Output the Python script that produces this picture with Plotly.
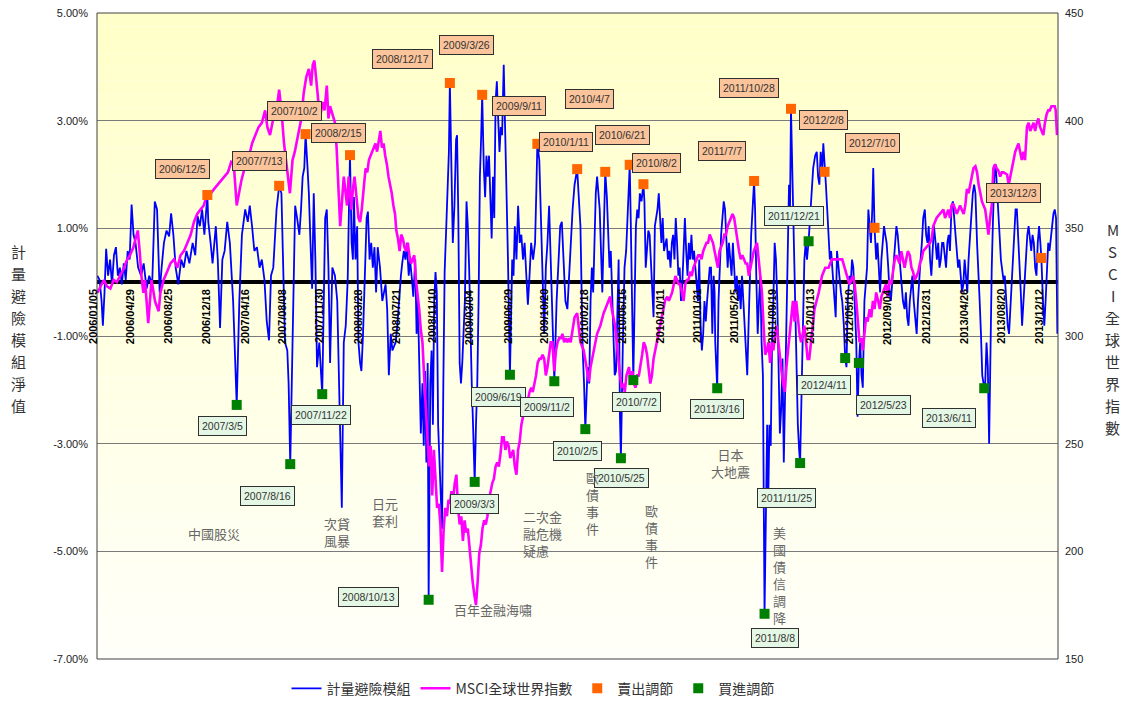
import plotly.graph_objects as go

# ---------------- DATA ----------------
blue_series = [
("2006-01-02",0.12),("2006-01-09",0.04),("2006-01-15",-0.35),("2006-01-19",-0.81),("2006-01-24",-0.19),
("2006-01-29",0.62),("2006-02-04",0.12),("2006-02-10",0.42),("2006-02-16",-0.04),("2006-02-22",0.50),
("2006-02-28",0.65),("2006-03-06",0.12),("2006-03-12",0.27),("2006-03-18",-0.04),("2006-03-24",0.35),
("2006-03-30",0.04),("2006-04-05",0.58),("2006-04-11",0.42),("2006-04-17",1.44),("2006-04-23",0.88),
("2006-04-29",0.73),("2006-05-07",0.27),("2006-05-16",0.12),("2006-05-24",0.35),("2006-06-02",-0.12),
("2006-06-10",0.12),("2006-06-19",-0.04),("2006-06-27",1.50),("2006-07-04",1.35),("2006-07-12",-0.19),
("2006-07-18",0.27),("2006-07-25",0.73),("2006-08-02",0.96),("2006-08-10",0.85),("2006-08-16",1.28),
("2006-08-23",0.88),("2006-08-30",0.27),("2006-09-07",-0.04),("2006-09-16",0.42),("2006-09-24",0.27),
("2006-10-02",0.58),("2006-10-11",0.35),("2006-10-21",0.73),("2006-10-29",0.50),("2006-11-05",1.23),
("2006-11-12",1.04),("2006-11-19",1.35),("2006-11-26",0.88),("2006-12-05",1.62),("2006-12-08",1.12),
("2006-12-15",0.73),("2006-12-21",0.35),("2006-12-31",1.04),("2007-01-06",0.42),("2007-01-13",-0.85),
("2007-01-20",0.42),("2007-01-27",0.58),("2007-02-04",1.12),("2007-02-12",0.73),("2007-02-22",-0.35),
("2007-03-05",-2.28),("2007-03-13",-0.35),("2007-03-21",0.88),("2007-03-31",1.35),("2007-04-08",1.12),
("2007-04-14",1.42),("2007-04-21",1.04),("2007-04-28",0.58),("2007-05-06",0.65),("2007-05-14",0.27),
("2007-05-21",0.42),("2007-05-29",0.04),("2007-06-05",-0.73),("2007-06-12",-1.08),("2007-06-18",0.12),
("2007-06-25",0.27),("2007-07-05",1.35),("2007-07-10",1.65),("2007-07-13",1.79),("2007-07-20",1.65),
("2007-07-25",0.42),("2007-07-31",-1.12),("2007-08-07",-1.27),("2007-08-11",-1.88),("2007-08-16",-3.38),
("2007-08-22",-1.12),("2007-08-26",0.19),("2007-08-31",1.42),("2007-09-06",1.19),("2007-09-13",0.88),
("2007-09-18",1.35),("2007-09-23",1.96),("2007-09-28",2.12),("2007-10-02",2.75),("2007-10-08",2.12),
("2007-10-12",1.65),("2007-10-17",0.73),("2007-10-22",-0.12),("2007-10-27",1.65),("2007-11-01",0.42),
("2007-11-06",-1.58),("2007-11-13",-1.12),("2007-11-22",-2.08),("2007-11-25",-1.12),("2007-12-01",1.19),
("2007-12-06",1.35),("2007-12-11",0.27),("2007-12-16",-1.50),("2007-12-23",0.27),("2007-12-31",0.12),
("2008-01-07",-0.35),("2008-01-21",-4.19),("2008-01-27",-1.12),("2008-02-02",-0.81),("2008-02-08",0.04),
("2008-02-12",1.42),("2008-02-15",2.36),("2008-02-20",0.73),("2008-02-24",0.42),("2008-02-27",1.58),
("2008-03-03",0.42),("2008-03-08",1.04),("2008-03-12",-1.12),("2008-03-17",-1.50),("2008-03-21",-1.65),
("2008-03-26",-0.96),("2008-03-31",0.04),("2008-04-06",1.19),("2008-04-10",1.31),("2008-04-15",0.42),
("2008-04-20",0.73),("2008-04-25",0.27),("2008-04-30",0.65),("2008-05-05",-0.19),("2008-05-10",0.65),
("2008-05-17",0.27),("2008-05-24",-0.35),("2008-05-29",-0.19),("2008-06-03",-0.04),("2008-06-08",-0.50),
("2008-06-13",-1.73),("2008-06-19",-0.96),("2008-06-24",-1.27),("2008-06-29",-1.19),("2008-07-04",-1.12),
("2008-07-09",-0.81),("2008-07-14",-0.35),("2008-07-20",0.12),("2008-07-24",0.35),("2008-07-29",0.58),
("2008-08-03",0.42),("2008-08-07",0.73),("2008-08-13",0.12),("2008-08-17",0.42),("2008-08-23",0.04),
("2008-08-27",-0.27),("2008-09-02",0.42),("2008-09-06",-0.96),("2008-09-10",-0.35),("2008-09-14",-1.27),
("2008-09-19",-2.81),("2008-09-24",-1.88),("2008-09-28",-3.04),("2008-10-02",-1.65),("2008-10-06",-3.35),
("2008-10-10",-1.50),("2008-10-13",-5.90),("2008-10-18",-1.88),("2008-10-22",-1.27),("2008-10-26",-2.65),
("2008-10-30",-0.35),("2008-11-03",0.19),("2008-11-07",-0.19),("2008-11-11",-2.65),("2008-11-15",-3.42),
("2008-11-19",-3.81),("2008-11-23",-4.58),("2008-11-27",-1.88),("2008-12-01",0.19),("2008-12-06",1.04),
("2008-12-10",1.96),("2008-12-14",2.42),("2008-12-17",3.70),("2008-12-21",2.12),("2008-12-26",0.73),
("2008-12-31",1.42),("2009-01-05",2.65),("2009-01-08",2.73),("2009-01-12",1.19),("2009-01-16",-1.50),
("2009-01-20",-1.88),("2009-01-24",-1.50),("2009-01-28",-0.96),("2009-02-01",-0.35),("2009-02-06",1.50),
("2009-02-10",1.04),("2009-02-14",0.27),("2009-02-18",-1.12),("2009-02-22",-1.88),("2009-02-26",-2.65),
("2009-03-03",-3.71),("2009-03-07",-2.65),("2009-03-11",-1.88),("2009-03-15",-0.35),("2009-03-19",1.96),
("2009-03-23",2.73),("2009-03-26",3.48),("2009-03-31",2.12),("2009-04-04",1.58),("2009-04-08",2.35),
("2009-04-12",1.96),("2009-04-16",2.35),("2009-04-20",1.35),("2009-04-24",0.81),("2009-04-28",1.96),
("2009-05-02",1.19),("2009-05-06",3.35),("2009-05-10",3.73),("2009-05-14",3.04),("2009-05-18",2.42),
("2009-05-22",2.88),("2009-05-26",2.73),("2009-05-31",4.04),("2009-06-05",2.73),("2009-06-09",1.58),
("2009-06-13",0.42),("2009-06-19",-1.72),("2009-06-22",-0.35),("2009-06-26",0.42),("2009-06-30",0.12),
("2009-07-04",1.04),("2009-07-09",0.42),("2009-07-14",1.42),("2009-07-19",0.73),("2009-07-24",0.88),
("2009-07-29",0.42),("2009-08-03",0.73),("2009-08-09",0.04),("2009-08-13",-0.42),("2009-08-18",0.12),
("2009-08-23",0.73),("2009-08-29",0.42),("2009-09-04",0.73),("2009-09-08",1.73),("2009-09-11",2.57),
("2009-09-17",2.27),("2009-09-22",1.19),("2009-09-27",0.04),("2009-10-02",-0.96),("2009-10-07",0.27),
("2009-10-12",0.73),("2009-10-17",1.42),("2009-10-23",0.12),("2009-10-29",-0.96),("2009-11-02",-1.84),
("2009-11-09",-0.35),("2009-11-15",0.42),("2009-11-20",1.04),("2009-11-25",1.12),("2009-12-01",0.42),
("2009-12-06",-0.35),("2009-12-12",-0.50),("2009-12-17",0.04),("2009-12-23",0.88),("2009-12-28",1.35),
("2010-01-03",1.81),("2010-01-08",1.96),("2010-01-11",2.10),("2010-01-21",1.04),("2010-01-24",-0.19),
("2010-01-28",-1.27),("2010-02-01",-1.88),("2010-02-05",-2.73),("2010-02-12",-1.58),("2010-02-17",-1.88),
("2010-02-21",-0.35),("2010-02-25",0.27),("2010-03-01",-0.19),("2010-03-05",0.81),("2010-03-09",1.65),
("2010-03-13",1.96),("2010-03-17",1.58),("2010-03-21",1.35),("2010-03-25",0.58),("2010-03-29",-0.19),
("2010-04-02",0.81),("2010-04-05",1.58),("2010-04-07",2.05),("2010-04-12",1.58),("2010-04-16",0.81),
("2010-04-20",0.27),("2010-04-24",0.58),("2010-04-28",-0.35),("2010-05-02",-0.96),("2010-05-06",-1.73),
("2010-05-10",-1.65),("2010-05-14",-0.73),("2010-05-18",0.42),("2010-05-22",-2.50),("2010-05-25",-3.27),
("2010-05-31",-1.12),("2010-06-05",0.27),("2010-06-10",0.58),("2010-06-15",1.19),("2010-06-21",2.18),
("2010-06-24",1.19),("2010-06-28",-0.35),("2010-07-02",-1.82),("2010-07-06",-0.35),("2010-07-10",1.04),
("2010-07-14",1.35),("2010-07-18",1.19),("2010-07-22",1.65),("2010-07-27",1.50),("2010-08-02",1.82),
("2010-08-05",1.50),("2010-08-09",0.27),("2010-08-13",0.73),("2010-08-17",0.96),("2010-08-21",0.88),
("2010-08-25",0.27),("2010-08-29",-0.35),("2010-09-02",-0.65),("2010-09-06",1.04),("2010-09-10",1.19),
("2010-09-14",1.35),("2010-09-18",1.65),("2010-09-22",1.04),("2010-09-26",0.73),("2010-09-30",1.19),
("2010-10-04",0.58),("2010-10-12",0.81),("2010-10-16",0.42),("2010-10-20",0.58),("2010-10-24",0.27),
("2010-10-28",0.73),("2010-11-01",0.88),("2010-11-05",0.42),("2010-11-09",1.19),("2010-11-13",0.73),
("2010-11-17",0.12),("2010-11-21",0.27),("2010-11-25",-0.35),("2010-11-29",-0.04),("2010-12-03",0.73),
("2010-12-07",1.19),("2010-12-11",0.58),("2010-12-15",0.12),("2010-12-19",0.73),("2010-12-23",0.42),
("2010-12-27",0.88),("2010-12-31",0.42),("2011-01-04",0.58),("2011-01-08",0.27),("2011-01-12",0.12),
("2011-01-16",-0.35),("2011-01-20",0.42),("2011-01-24",-0.81),("2011-01-28",-1.27),("2011-02-01",-0.96),
("2011-02-05",-0.35),("2011-02-09",-0.73),("2011-02-13",-0.35),("2011-02-17",-0.04),("2011-02-21",0.27),
("2011-02-25",0.27),("2011-03-01",-0.96),("2011-03-05",0.12),("2011-03-08",-0.19),("2011-03-10",-1.12),
("2011-03-13",-1.58),("2011-03-16",-1.97),("2011-03-20",-0.35),("2011-03-24",0.42),("2011-03-28",0.88),
("2011-04-01",1.19),("2011-04-05",1.50),("2011-04-09",1.35),("2011-04-13",0.73),("2011-04-17",0.27),
("2011-04-21",0.73),("2011-04-25",0.42),("2011-04-29",0.12),("2011-05-03",0.73),("2011-05-07",0.27),
("2011-05-11",-0.19),("2011-05-15",0.12),("2011-05-19",-0.35),("2011-05-23",-0.04),("2011-05-27",-0.50),
("2011-05-31",0.12),("2011-06-04",-0.35),("2011-06-08",-0.96),("2011-06-12",-1.42),("2011-06-16",-1.73),
("2011-06-20",-0.81),("2011-06-24",0.12),("2011-06-28",0.88),("2011-07-07",1.88),("2011-07-10",1.35),
("2011-07-14",0.04),("2011-07-18",-0.96),("2011-07-22",-0.35),("2011-07-26",0.12),("2011-07-30",-1.12),
("2011-08-03",-1.73),("2011-08-08",-6.16),("2011-08-12",-4.19),("2011-08-16",-2.65),("2011-08-19",-4.19),
("2011-08-23",-2.65),("2011-08-27",-3.04),("2011-08-31",-1.12),("2011-09-04",-0.35),("2011-09-08",0.73),
("2011-09-12",0.42),("2011-09-16",-0.35),("2011-09-20",-1.58),("2011-09-24",-2.81),("2011-09-28",-2.35),
("2011-10-02",-1.42),("2011-10-06",-3.35),("2011-10-10",-1.88),("2011-10-14",-0.50),("2011-10-18",0.81),
("2011-10-22",1.81),("2011-10-25",1.35),("2011-10-28",3.22),("2011-11-02",1.81),("2011-11-06",0.73),
("2011-11-10",-0.35),("2011-11-14",-1.73),("2011-11-18",-2.65),("2011-11-22",-3.12),("2011-11-25",-3.36),
("2011-11-30",-1.88),("2011-12-04",-0.35),("2011-12-08",0.42),("2011-12-12",0.73),("2011-12-16",0.42),
("2011-12-21",0.76),("2011-12-26",1.19),("2011-12-30",1.65),("2012-01-04",2.12),("2012-01-10",2.35),
("2012-01-15",2.42),("2012-01-19",1.96),("2012-01-23",1.81),("2012-01-27",2.42),("2012-02-01",2.12),
("2012-02-04",2.58),("2012-02-08",2.05),("2012-02-12",1.81),("2012-02-16",1.35),("2012-02-20",0.73),
("2012-02-24",0.42),("2012-02-28",0.58),("2012-03-04",0.12),("2012-03-08",-0.35),("2012-03-13",-0.65),
("2012-03-17",0.58),("2012-03-21",0.27),("2012-03-25",-0.04),("2012-03-29",-0.19),("2012-04-02",-0.35),
("2012-04-07",-0.81),("2012-04-11",-1.41),("2012-04-15",-1.58),("2012-04-19",-0.35),("2012-04-24",0.12),
("2012-04-28",-0.04),("2012-05-02",0.42),("2012-05-06",0.27),("2012-05-11",-0.35),("2012-05-15",-1.12),
("2012-05-19",-2.50),("2012-05-23",-1.50),("2012-05-27",-1.12),("2012-05-31",-1.73),("2012-06-04",-1.96),
("2012-06-09",-0.35),("2012-06-13",-0.04),("2012-06-17",0.27),("2012-06-21",1.35),("2012-06-25",1.04),
("2012-06-29",0.73),("2012-07-03",1.35),("2012-07-06",2.12),("2012-07-10",1.01),("2012-07-15",0.42),
("2012-07-19",0.73),("2012-07-23",0.27),("2012-07-27",-0.19),("2012-07-31",0.42),("2012-08-04",0.73),
("2012-08-08",1.04),("2012-08-12",0.88),("2012-08-16",0.73),("2012-08-21",0.27),("2012-08-25",-0.19),
("2012-08-29",-0.35),("2012-09-02",-0.04),("2012-09-07",0.27),("2012-09-11",0.73),("2012-09-15",1.04),
("2012-09-19",0.88),("2012-09-23",0.58),("2012-09-27",0.27),("2012-10-01",-0.04),("2012-10-05",-0.35),
("2012-10-10",-0.50),("2012-10-14",-0.19),("2012-10-18",-0.65),("2012-10-22",-0.81),("2012-10-26",-0.35),
("2012-10-30",-0.04),("2012-11-03",0.12),("2012-11-07",-0.35),("2012-11-12",-0.65),("2012-11-16",-0.96),
("2012-11-20",-0.35),("2012-11-24",0.12),("2012-11-28",0.42),("2012-12-02",0.73),("2012-12-06",1.19),
("2012-12-11",1.35),("2012-12-15",0.88),("2012-12-19",0.73),("2012-12-23",1.04),("2012-12-27",0.42),
("2012-12-31",0.12),("2013-01-04",0.58),("2013-01-08",1.04),("2013-01-13",0.73),("2013-01-17",0.42),
("2013-01-21",0.73),("2013-01-25",0.27),("2013-01-29",0.42),("2013-02-02",0.73),("2013-02-06",0.73),
("2013-02-10",0.42),("2013-02-14",0.27),("2013-02-18",0.73),("2013-02-22",0.88),("2013-02-26",0.58),
("2013-03-03",1.42),("2013-03-07",1.50),("2013-03-11",1.19),("2013-03-15",0.73),("2013-03-19",0.58),
("2013-03-23",0.27),("2013-03-27",0.42),("2013-03-31",0.12),("2013-04-04",-0.19),("2013-04-08",-0.04),
("2013-04-12",0.42),("2013-04-16",0.12),("2013-04-20",-0.19),("2013-04-24",0.42),("2013-04-29",0.88),
("2013-05-03",1.35),("2013-05-07",1.65),("2013-05-11",1.81),("2013-05-15",1.65),("2013-05-20",0.73),
("2013-05-24",0.27),("2013-05-28",-0.35),("2013-06-01",-0.96),("2013-06-05",-1.73),("2013-06-11",-1.97),
("2013-06-14",-1.88),("2013-06-18",-1.12),("2013-06-22",-1.58),("2013-06-26",-3.00),("2013-06-30",-1.12),
("2013-07-04",0.27),("2013-07-08",1.19),("2013-07-12",1.96),("2013-07-16",2.19),("2013-07-20",1.81),
("2013-07-24",1.35),("2013-07-28",0.88),("2013-08-01",0.42),("2013-08-05",0.27),("2013-08-09",0.04),
("2013-08-13",0.12),("2013-08-18",-0.35),("2013-08-22",-0.81),("2013-08-26",-0.96),("2013-08-30",-0.35),
("2013-09-03",-0.04),("2013-09-07",0.42),("2013-09-11",1.04),("2013-09-15",1.35),("2013-09-19",1.35),
("2013-09-23",0.88),("2013-09-27",0.27),("2013-10-01",-0.19),("2013-10-05",-0.81),("2013-10-09",-0.35),
("2013-10-13",0.12),("2013-10-17",0.58),("2013-10-21",0.88),("2013-10-25",1.04),("2013-10-29",0.73),
("2013-11-02",0.58),("2013-11-06",0.88),("2013-11-10",0.73),("2013-11-14",0.27),("2013-11-18",0.12),
("2013-11-22",0.73),("2013-11-26",1.04),("2013-11-30",0.73),("2013-12-03",0.45),("2013-12-08",-0.35),
("2013-12-12",-0.81),("2013-12-16",-0.35),("2013-12-20",0.27),("2013-12-24",0.73),("2013-12-28",0.58),
("2014-01-01",0.88),("2014-01-05",1.04),("2014-01-09",1.27),("2014-01-13",1.35),("2014-01-17",1.19),
("2014-01-21",-0.96),
]

msci_series = [
("2006-01-02",320),("2006-01-12",323),("2006-01-22",326),("2006-02-01",323),("2006-02-11",322),
("2006-02-21",326),("2006-03-03",325),("2006-03-13",328),("2006-03-23",331),("2006-04-02",335),
("2006-04-12",337.5),("2006-04-22",341),("2006-05-01",346),("2006-05-06",349),("2006-05-12",339),
("2006-05-17",328),("2006-05-23",320),("2006-05-28",326),("2006-06-02",316),("2006-06-07",306),
("2006-06-12",316),("2006-06-17",326),("2006-06-28",316),("2006-07-09",311.5),("2006-07-14",320),
("2006-07-24",326),("2006-08-04",330),("2006-08-14",333.7),("2006-08-25",335.6),("2006-09-04",331.7),
("2006-09-14",337.5),("2006-09-24",339.4),("2006-10-05",343.3),("2006-10-15",347),("2006-10-25",353),
("2006-11-04",356.7),("2006-11-14",358.7),("2006-11-24",360.6),("2006-12-05",366.3),("2006-12-16",366.3),
("2006-12-26",368.3),("2007-01-06",370.2),("2007-01-16",372),("2007-01-27",374),("2007-02-06",376),
("2007-02-16",380.8),("2007-02-24",379.8),("2007-03-05",360.6),("2007-03-11",366.3),("2007-03-19",372),
("2007-03-29",377.9),("2007-04-09",381.7),("2007-04-21",389.4),("2007-05-01",393.3),("2007-05-11",397),
("2007-05-21",399),("2007-05-31",404.8),("2007-06-07",397),("2007-06-15",393.3),("2007-06-25",401),
("2007-07-05",404.8),("2007-07-13",414.4),("2007-07-20",404.8),("2007-07-28",389.4),("2007-08-07",377.9),
("2007-08-15",366.3),("2007-08-23",381.7),("2007-08-30",385.6),("2007-09-09",393.3),("2007-09-19",401),
("2007-09-26",412.5),("2007-10-04",420.2),("2007-10-12",424),("2007-10-19",416.3),("2007-10-24",426),
("2007-10-29",427.9),("2007-11-03",420.2),("2007-11-08",410.6),("2007-11-15",401),("2007-11-23",408.7),
("2007-11-29",404.8),("2007-12-06",416.3),("2007-12-11",401),("2007-12-16",406.7),("2007-12-23",402.9),
("2007-12-31",399),("2008-01-05",387.5),("2008-01-10",370.2),("2008-01-16",351),("2008-01-27",374),
("2008-02-01",368.3),("2008-02-06",360.6),("2008-02-11",374),("2008-02-15",366.3),("2008-02-19",358.7),
("2008-02-24",368.3),("2008-02-29",374),("2008-03-06",364.4),("2008-03-12",354.8),("2008-03-17",352.9),
("2008-03-22",358.7),("2008-03-29",370.2),("2008-04-03",377.9),("2008-04-08",376),("2008-04-13",381.7),
("2008-04-18",383.7),("2008-04-23",385.6),("2008-04-28",387.5),("2008-05-03",389.4),("2008-05-08",385.6),
("2008-05-13",391.3),("2008-05-18",395.2),("2008-05-23",387.5),("2008-05-28",389.4),("2008-06-02",383.7),
("2008-06-07",379.8),("2008-06-12",374),("2008-06-17",370.2),("2008-06-22",366.3),("2008-06-27",360.6),
("2008-07-02",356.7),("2008-07-06",349),("2008-07-11",345.2),("2008-07-16",339.4),("2008-07-21",347.1),
("2008-07-26",345.2),("2008-07-31",341.3),("2008-08-05",339.4),("2008-08-10",343.3),("2008-08-15",337.5),
("2008-08-20",333.7),("2008-08-25",335.6),("2008-08-30",337.5),("2008-09-04",326),("2008-09-09",320.2),
("2008-09-14",312.5),("2008-09-19",302.9),("2008-09-24",297.1),("2008-09-29",281.7),("2008-10-04",268.3),
("2008-10-09",254.8),("2008-10-14",239.4),("2008-10-19",249),("2008-10-24",226),("2008-10-29",247.1),
("2008-11-03",235.6),("2008-11-08",220.2),("2008-11-13",222.1),("2008-11-18",212.5),("2008-11-23",190.4),
("2008-11-28",210.6),("2008-12-03",220.2),("2008-12-08",216.3),("2008-12-13",224),("2008-12-17",222.1),
("2008-12-22",227.9),("2008-12-27",224),("2009-01-01",231.7),("2009-01-06",235.6),("2009-01-11",220.2),
("2009-01-16",212.5),("2009-01-21",216.3),("2009-01-26",204.8),("2009-01-31",214.4),("2009-02-05",208.7),
("2009-02-10",210.6),("2009-02-15",201),("2009-02-20",193.3),("2009-02-25",185.6),("2009-03-02",179.8),
("2009-03-07",175),("2009-03-12",185.6),("2009-03-17",199),("2009-03-22",202.9),("2009-03-27",210.6),
("2009-04-01",214.4),("2009-04-06",212.5),("2009-04-11",216.3),("2009-04-16",224),("2009-04-21",227.9),
("2009-04-26",231.7),("2009-05-01",233.7),("2009-05-06",239.4),("2009-05-11",241.3),("2009-05-16",239.4),
("2009-05-21",245.2),("2009-05-26",252.9),("2009-05-31",252.9),("2009-06-05",247.1),("2009-06-10",251),
("2009-06-15",249),("2009-06-20",243.3),("2009-06-29",247.1),("2009-07-04",239.4),("2009-07-09",235.6),
("2009-07-14",247.1),("2009-07-19",251),("2009-07-24",258.7),("2009-07-29",262.5),("2009-08-03",266.3),
("2009-08-08",268.3),("2009-08-13",270.2),("2009-08-18",274),("2009-08-23",276),("2009-08-28",274),
("2009-09-02",277.9),("2009-09-07",281.7),("2009-09-12",287.5),("2009-09-17",289.4),("2009-09-22",289.4),
("2009-09-27",291.3),("2009-10-02",289.4),("2009-10-07",281.7),("2009-10-12",285.6),("2009-10-17",291.3),
("2009-10-22",297.1),("2009-10-27",297.1),("2009-11-02",283.7),("2009-11-07",293.3),("2009-11-12",297.1),
("2009-11-17",299),("2009-11-22",299),("2009-11-27",301),("2009-12-02",297.1),("2009-12-07",299),
("2009-12-12",297.1),("2009-12-17",299),("2009-12-22",297.1),("2009-12-28",302.9),("2010-01-03",308.7),
("2010-01-11",310.6),("2010-01-21",297.1),("2010-01-31",293.3),("2010-02-10",283.7),("2010-02-16",278.8),
("2010-02-21",285.6),("2010-03-03",293.3),("2010-03-13",301),("2010-03-23",304.8),("2010-04-02",310.6),
("2010-04-12",314.4),("2010-04-22",318.3),("2010-04-27",312.5),("2010-05-02",308.7),("2010-05-07",304.8),
("2010-05-12",297.1),("2010-05-17",287.5),("2010-05-22",281.7),("2010-05-27",276),("2010-06-01",277.9),
("2010-06-06",274),("2010-06-11",281.7),("2010-06-19",285.6),("2010-06-24",277.9),("2010-06-29",283.7),
("2010-07-04",277.9),("2010-07-09",276),("2010-07-14",281.7),("2010-07-19",281.7),("2010-07-24",285.6),
("2010-07-29",291.3),("2010-08-03",297.1),("2010-08-08",295.2),("2010-08-13",291.3),("2010-08-18",283.7),
("2010-08-23",277.9),("2010-08-28",281.7),("2010-09-02",289.4),("2010-09-07",293.3),("2010-09-12",297.1),
("2010-09-17",301),("2010-09-22",304.8),("2010-09-27",308.7),("2010-10-02",312.5),("2010-10-07",316.3),
("2010-10-14",318.3),("2010-10-19",316.3),("2010-10-24",318.3),("2010-10-29",320.2),("2010-11-03",324),
("2010-11-08",327.9),("2010-11-13",326),("2010-11-18",324),("2010-11-23",324),("2010-11-28",320.2),
("2010-12-03",316.3),("2010-12-08",324),("2010-12-13",326),("2010-12-18",326),("2010-12-23",329.8),
("2010-12-28",327.9),("2011-01-02",331.7),("2011-01-07",333.7),("2011-01-12",335.6),("2011-01-17",337.5),
("2011-01-22",337.5),("2011-01-27",335.6),("2011-02-01",339.4),("2011-02-06",341.3),("2011-02-11",343.3),
("2011-02-16",343.3),("2011-02-21",347.1),("2011-02-26",345.2),("2011-03-03",343.3),("2011-03-08",339.4),
("2011-03-13",335.6),("2011-03-18",331.7),("2011-03-23",339.4),("2011-03-28",341.3),("2011-04-02",343.3),
("2011-04-07",347.1),("2011-04-12",347.1),("2011-04-17",351),("2011-04-22",352.9),("2011-04-27",354.8),
("2011-05-02",356.7),("2011-05-07",354.8),("2011-05-12",349),("2011-05-17",343.3),("2011-05-22",339.4),
("2011-05-27",335.6),("2011-06-01",337.5),("2011-06-06",335.6),("2011-06-11",333.7),("2011-06-16",333.7),
("2011-06-21",327.9),("2011-06-26",331.7),("2011-07-01",335.6),("2011-07-06",339.4),("2011-07-11",341.3),
("2011-07-16",343.3),("2011-07-21",335.6),("2011-07-26",327.9),("2011-07-31",320.2),("2011-08-05",304.8),
("2011-08-10",291.3),("2011-08-15",293.3),("2011-08-20",297.1),("2011-08-25",287.5),("2011-08-30",297.1),
("2011-09-04",293.3),("2011-09-09",301),("2011-09-14",304.8),("2011-09-19",297.1),("2011-09-24",291.3),
("2011-09-29",283.7),("2011-10-04",277.9),("2011-10-09",274),("2011-10-14",285.6),("2011-10-19",293.3),
("2011-10-24",301),("2011-10-29",308.7),("2011-11-03",316.3),("2011-11-08",306.7),("2011-11-13",316.3),
("2011-11-18",308.7),("2011-11-23",301),("2011-11-28",297.1),("2011-12-03",301),("2011-12-08",304.8),
("2011-12-13",297.1),("2011-12-18",289.4),("2011-12-23",289.4),("2011-12-28",297.1),("2012-01-03",304.8),
("2012-01-08",312.5),("2012-01-21",320.2),("2012-01-31",327.9),("2012-02-10",331.7),("2012-02-20",331.7),
("2012-03-01",335.6),("2012-03-13",335.6),("2012-03-23",335.6),("2012-04-02",335.6),("2012-04-13",329.8),
("2012-04-24",324),("2012-05-05",327.9),("2012-05-10",324),("2012-05-15",316.3),("2012-05-20",304.8),
("2012-05-25",297.1),("2012-05-31",299),("2012-06-04",293.3),("2012-06-09",301),("2012-06-14",308.7),
("2012-06-19",306.7),("2012-06-25",312.5),("2012-06-30",308.7),("2012-07-05",316.3),("2012-07-10",312.5),
("2012-07-15",320.2),("2012-07-21",316.3),("2012-07-26",312.5),("2012-07-31",318.3),("2012-08-04",320.2),
("2012-08-14",324),("2012-08-19",318.3),("2012-08-25",326),("2012-08-30",324),("2012-09-05",331.7),
("2012-09-10",335.6),("2012-09-15",337.5),("2012-09-20",335.6),("2012-09-25",333.7),("2012-09-30",339.4),
("2012-10-05",335.6),("2012-10-10",331.7),("2012-10-15",335.6),("2012-10-20",339.4),("2012-10-26",337.5),
("2012-10-31",331.7),("2012-11-05",329.8),("2012-11-10",326),("2012-11-16",327.9),("2012-11-21",329.8),
("2012-11-26",333.7),("2012-12-01",335.6),("2012-12-06",339.4),("2012-12-16",341.3),("2012-12-27",343.3),
("2013-01-01",345.2),("2013-01-06",351),("2013-01-11",352.9),("2013-01-16",354.8),("2013-01-26",356.7),
("2013-02-06",358.7),("2013-02-11",354.8),("2013-02-16",356.7),("2013-02-21",358.7),("2013-02-26",354.8),
("2013-03-03",360.6),("2013-03-08",361.5),("2013-03-19",356.7),("2013-03-24",358.7),("2013-03-29",360.6),
("2013-04-03",358.7),("2013-04-09",356.7),("2013-04-14",360.6),("2013-04-19",368.3),("2013-04-24",366.3),
("2013-04-29",370.2),("2013-05-04",374),("2013-05-09",377.9),("2013-05-15",378.8),("2013-05-20",376),
("2013-05-25",370.2),("2013-05-30",366.3),("2013-06-04",362.5),("2013-06-09",360.6),("2013-06-14",358.7),
("2013-06-19",352.9),("2013-06-24",347.1),("2013-06-29",354.8),("2013-07-04",360.6),("2013-07-09",377.9),
("2013-07-14",379.8),("2013-07-19",377.9),("2013-07-24",376.9),("2013-07-30",374),("2013-08-04",376),
("2013-08-09",376),("2013-08-20",375),("2013-08-25",370.2),("2013-08-30",374),("2013-09-04",377.9),
("2013-09-09",381.7),("2013-09-14",385.6),("2013-09-19",387.5),("2013-09-24",389.4),("2013-09-29",385.6),
("2013-10-04",381.7),("2013-10-09",385.6),("2013-10-14",381.7),("2013-10-20",397.1),("2013-10-25",399),
("2013-10-30",395.2),("2013-11-04",397.1),("2013-11-09",399),("2013-11-14",395.2),("2013-11-19",399),
("2013-11-24",401),("2013-11-29",397.1),("2013-12-04",395.2),("2013-12-09",393.3),("2013-12-14",399),
("2013-12-19",402.9),("2013-12-24",404.8),("2013-12-29",404.8),("2014-01-03",406.7),("2014-01-08",406.7),
("2014-01-13",406.7),("2014-01-16",404.8),("2014-01-20",393.3),
]

sell_dates = ["2006-12-05","2007-07-13","2007-10-02","2008-02-15","2008-12-17","2009-03-26",
              "2009-09-11","2010-01-11","2010-04-07","2010-06-21","2010-08-02","2011-07-07",
              "2011-10-28","2012-02-08","2012-07-10","2013-12-03"]
sell_vals = [1.62,1.79,2.75,2.36,3.70,3.48,2.57,2.10,2.05,2.18,1.82,1.88,3.22,2.05,1.01,0.45]
sell_labels = ["2006/12/5","2007/7/13","2007/10/2","2008/2/15","2008/12/17","2009/3/26",
               "2009/9/11","2010/1/11","2010/4/7","2010/6/21","2010/8/2","2011/7/7",
               "2011/10/28","2012/2/8","2012/7/10","2013/12/3"]

buy_dates = ["2007-03-05","2007-08-16","2007-11-22","2008-10-13","2009-03-03","2009-06-19",
             "2009-11-02","2010-02-05","2010-05-25","2010-07-02","2011-03-16","2011-08-08",
             "2011-11-25","2011-12-21","2012-04-11","2012-05-23","2013-06-11"]
buy_vals = [-2.28,-3.38,-2.08,-5.90,-3.71,-1.72,-1.84,-2.73,-3.27,-1.82,-1.97,-6.16,
            -3.36,0.76,-1.41,-1.50,-1.97]
buy_labels = ["2007/3/5","2007/8/16","2007/11/22","2008/10/13","2009/3/3","2009/6/19",
              "2009/11/2","2010/2/5","2010/5/25","2010/7/2","2011/3/16","2011/8/8",
              "2011/11/25","2011/12/21","2012/4/11","2012/5/23","2013/6/11"]

tick_dates = ["2006-01-05","2006-04-29","2006-08-25","2006-12-18","2007-04-16","2007-08-08",
              "2007-11-30","2008-03-28","2008-07-21","2008-11-10","2009-03-04","2009-06-29",
              "2009-10-20","2010-02-18","2010-06-16","2010-10-11","2011-01-31","2011-05-25",
              "2011-09-19","2012-01-13","2012-05-10","2012-09-04","2012-12-31","2013-04-26",
              "2013-08-20","2013-12-12"]
tick_labels = [d.replace("-", "/") for d in tick_dates]

y_ticks = [-7, -5, -3, -1, 1, 3, 5]
y_tick_text = ["-7.00%", "-5.00%", "-3.00%", "-1.00%", "1.00%", "3.00%", "5.00%"]
y2_ticks = [150, 200, 250, 300, 350, 400, 450]

event_texts = ["中國股災", "次貸<br>風暴", "日元<br>套利", "百年金融海嘯", "二次金<br>融危機<br>疑慮",
               "歐<br>債<br>事<br>件", "歐<br>債<br>事<br>件", "日本<br>大地震", "美<br>國<br>債<br>信<br>調<br>降"]
left_title_chars = list("計量避險模組淨值")
right_title_chars = ["M", "S", "C", "I"] + list("全球世界指數")

# ---------------- LAYOUT POSITIONS (fractions of the plot area) ----------------
sell_box_pos = [(0.0885,0.7585),(0.1696,0.7709),(0.2050,0.8483),(0.2508,0.8142),(0.3184,0.9288),
                (0.3840,0.9505),(0.4391,0.8560),(0.4880,0.8003),(0.5120,0.8669),(0.5473,0.8111),
                (0.5827,0.7678),(0.6504,0.7864),(0.6785,0.8839),(0.7555,0.8344),(0.8065,0.7988),
                (0.9532,0.7214)]
buy_box_pos = [(0.1301,0.3607),(0.1779,0.2523),(0.2331,0.3777),(0.2820,0.0960),(0.3933,0.2399),
               (0.4183,0.4056),(0.4683,0.3901),(0.5005,0.3220),(0.5453,0.2802),(0.5619,0.3978),
               (0.6452,0.3870),(0.7055,0.0325),(0.7170,0.2492),(0.7253,0.6858),(0.7565,0.4241),
               (0.8179,0.3932),(0.8866,0.3731)]
event_pos = [(0.1217,0.1950,"center"),(0.2497,0.1966,"center"),(0.2997,0.2276,"center"),
             (0.4121,0.0759,"center"),(0.4412,0.1935,"left"),(0.5161,0.2415,"center"),
             (0.5775,0.1904,"center"),(0.6597,0.3034,"center"),(0.7107,0.1300,"center")]

PLOT_H = 646.0
bd = [d for d, v in blue_series]
bv = [v for d, v in blue_series]
md = [d for d, v in msci_series]
mv = [v for d, v in msci_series]

FONT = "Liberation Sans, Arial, Noto Sans CJK TC, sans-serif"
NARROW = "Liberation Sans Narrow, Arial Narrow, Liberation Sans, sans-serif"
CJK = "Noto Sans CJK TC, Liberation Sans, sans-serif"

fig = go.Figure()
fig.add_trace(go.Scatter(x=bd, y=bv, mode="lines", name="計量避險模組",
                         line=dict(color="#0000FF", width=1.8)))
fig.add_trace(go.Scatter(x=md, y=mv, mode="lines", name="MSCI全球世界指數", yaxis="y2",
                         line=dict(color="#FF00FF", width=2.6)))
fig.add_trace(go.Scatter(x=sell_dates, y=sell_vals, mode="markers", name="賣出調節", yaxis="y3",
                         marker=dict(symbol="square", size=10, color="#FF6600")))
fig.add_trace(go.Scatter(x=buy_dates, y=buy_vals, mode="markers", name="買進調節", yaxis="y3",
                         marker=dict(symbol="square", size=10, color="#008000")))

shapes = []
N = 48
top = (255, 255, 200)
bot = (255, 255, 250)
for i in range(N):
    t = (i + 0.5) / N
    c = tuple(round(bot[k] + (top[k] - bot[k]) * t) for k in range(3))
    shapes.append(dict(type="rect", xref="x domain", yref="y domain", x0=0, x1=1,
                       y0=i / N, y1=(i + 1) / N, fillcolor="rgb(%d,%d,%d)" % c,
                       line=dict(width=0), layer="below"))
shapes.append(dict(type="rect", xref="x domain", yref="y domain", x0=0, x1=1, y0=0, y1=1,
                   line=dict(color="#404040", width=1), fillcolor="rgba(0,0,0,0)", layer="above"))

ann = []
for d, lab in zip(tick_dates, tick_labels):
    ann.append(dict(x=d, y=0, xref="x", yref="y", text="<b>%s</b>" % lab, textangle=-90,
                    showarrow=False, xanchor="center", yanchor="top", xshift=-6, yshift=-5,
                    font=dict(size=11, color="black", family=FONT)))
for lab, (px, py) in zip(sell_labels, sell_box_pos):
    ann.append(dict(x=px, y=py, xref="x domain", yref="y domain", text=lab, showarrow=False,
                    xanchor="center", yanchor="middle", bgcolor="#FBC49A", bordercolor="#303030",
                    borderwidth=1, borderpad=3, font=dict(size=10.5, color="#333333", family=NARROW)))
for lab, (px, py) in zip(buy_labels, buy_box_pos):
    ann.append(dict(x=px, y=py, xref="x domain", yref="y domain", text=lab, showarrow=False,
                    xanchor="center", yanchor="middle", bgcolor="#E4F7E4", bordercolor="#303030",
                    borderwidth=1, borderpad=3, font=dict(size=10.5, color="#333333", family=NARROW)))
for txt, (px, py, al) in zip(event_texts, event_pos):
    ann.append(dict(x=px, y=py, xref="x domain", yref="y domain", text=txt, showarrow=False,
                    xanchor=al, yanchor="middle", align=al,
                    font=dict(size=13, color="#666666", family=CJK)))
for titles, xpos in ((left_title_chars, -0.0812), (right_title_chars, 1.0572)):
    n = len(titles)
    for i, ch in enumerate(titles):
        ann.append(dict(x=xpos, y=0.512 + ((n - 1) / 2 - i) * 22 / PLOT_H,
                        xref="x domain", yref="y domain", text=ch, showarrow=False,
                        xanchor="center", yanchor="middle",
                        font=dict(size=15, color="#333333", family=CJK)))

fig.update_layout(
    width=1135, height=702,
    margin=dict(l=97, r=77, t=13, b=43, autoexpand=False),
    paper_bgcolor="white", plot_bgcolor="rgba(0,0,0,0)",
    font=dict(family=FONT, color="#333333"),
    xaxis=dict(type="date", range=["2006-01-01", "2014-01-23"], showticklabels=False,
               showgrid=False, zeroline=False, ticks="", automargin=False),
    yaxis=dict(range=[-7, 5], tickvals=y_ticks, ticktext=y_tick_text,
               showgrid=True, gridcolor="#7a7a7a", gridwidth=1,
               zeroline=True, zerolinecolor="black", zerolinewidth=4,
               tickfont=dict(size=11, color="#222222"), ticks="", ticklabelstandoff=8,
               automargin=False),
    yaxis2=dict(range=[150, 450], tickvals=y2_ticks, overlaying="y",
                side="right", showgrid=False, zeroline=False,
                tickfont=dict(size=11, color="#222222"), ticks="", ticklabelstandoff=6,
                automargin=False),
    yaxis3=dict(range=[-7, 5], overlaying="y", visible=False),
    shapes=shapes, annotations=ann,
    showlegend=True,
    legend=dict(orientation="h", x=0.4537, y=-0.046, xanchor="center", yanchor="middle",
                font=dict(size=14, color="#333333", family=CJK), bgcolor="rgba(0,0,0,0)"),
)

fig.write_html("out.html", config={"displayModeBar": False},
               post_script="document.body.style.margin='0px';document.body.style.overflow='hidden';")
